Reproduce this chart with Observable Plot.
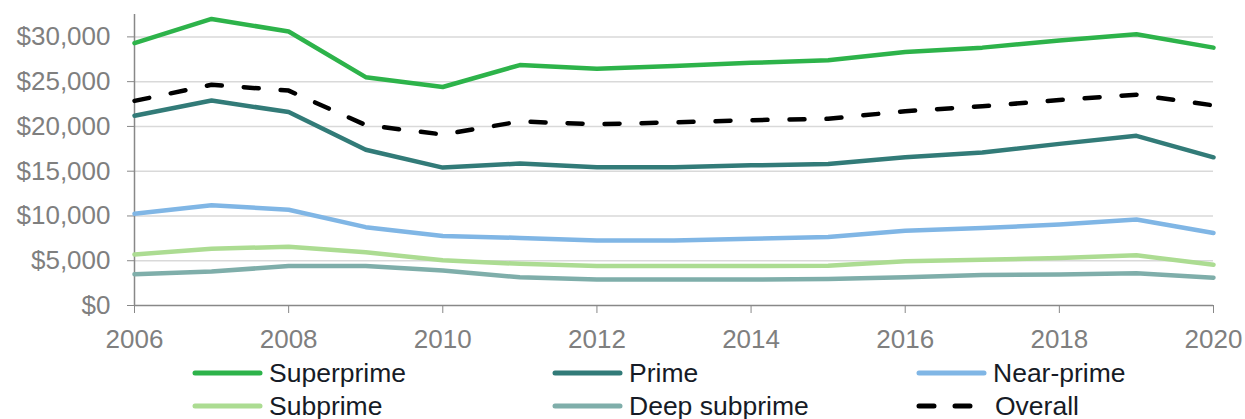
<!DOCTYPE html>
<html>
<head>
<meta charset="utf-8">
<script src="https://cdn.jsdelivr.net/npm/d3@7"></script>
<script src="https://cdn.jsdelivr.net/npm/@observablehq/plot@0.6"></script>
<style>
  html, body { margin: 0; padding: 0; background: #fff; }
  #wrap { position: relative; width: 1245px; height: 419px; font-family: "Liberation Sans", Arial, sans-serif; }
  #legend { position: absolute; left: 0; top: 0; width: 1245px; height: 419px; pointer-events: none; }
  .item { position: absolute; display: flex; align-items: center; height: 30px; font-size: 26.5px; color: #161b26; white-space: nowrap; }
  .item svg { margin-right: 6px; }
</style>
</head>
<body>
<div id="wrap"></div>
<script>
const years = [2006,2007,2008,2009,2010,2011,2012,2013,2014,2015,2016,2017,2018,2019,2020];
const superprime   = [29300,32000,30600,25500,24400,26850,26450,26750,27100,27400,28300,28800,29600,30300,28800];
const prime        = [21200,22900,21600,17400,15400,15850,15450,15450,15650,15800,16550,17100,18050,18950,16550];
const nearPrime    = [10250,11200,10700,8750,7750,7550,7250,7250,7450,7650,8350,8650,9050,9600,8100];
const subprime     = [5700,6350,6550,5950,5050,4650,4400,4400,4400,4450,4950,5100,5300,5600,4550];
const deepSubprime = [3500,3800,4400,4400,3900,3150,2900,2900,2900,2950,3150,3400,3450,3600,3100];
const overall      = [22850,24650,24000,20150,19100,20550,20250,20450,20700,20850,21700,22250,22950,23550,22350];
const yTicks = [0,5000,10000,15000,20000,25000,30000];
const xTicks = [2006,2008,2010,2012,2014,2016,2018,2020];

const seriesNames  = ["Superprime","Prime","Near-prime","Subprime","Deep subprime","Overall"];
const seriesValues = [superprime, prime, nearPrime, subprime, deepSubprime, overall];
const seriesColors = ["#2db34a","#327b78","#80b6e5","#acdc92","#7faeaa","#000000"];
const seriesDash   = [null,null,null,null,null,"15,22"];

const table = (vals) => years.map((yr, i) => ({year: yr, value: vals[i]}));
const fmt = d3.format("$,");

const lineMarks = seriesValues.map((vals, k) => Plot.line(table(vals), {
  x: "year", y: "value",
  stroke: seriesColors[k], strokeWidth: 4.5,
  strokeDasharray: seriesDash[k] || undefined,
  strokeLinecap: "round",
  strokeLinejoin: "round"
}));
// draw lower series first, overall last
const order = [4,3,2,1,0,5];

const chart = Plot.plot({
  width: 1245,
  height: 352,
  marginLeft: 134,
  marginRight: 32,
  marginTop: 14,
  marginBottom: 47,
  style: { fontFamily: "'Liberation Sans', Arial, sans-serif", fontSize: "26px", color: "#7f7f7f", background: "#fff", overflow: "visible" },
  x: { domain: [2006, 2020] },
  y: { domain: [0, 32500] },
  marks: [
    Plot.gridY(yTicks.filter(d => d > 0), { stroke: "#d9d9d9", strokeOpacity: 1, strokeWidth: 1.5 }),
    Plot.axisY(yTicks, { tickSize: 7, tickPadding: 17, tickFormat: fmt, stroke: "#888", strokeOpacity: 1, fill: "#7f7f7f", fontSize: 26, label: null }),
    Plot.axisX(xTicks, { tickSize: 8, tickPadding: 16, tickFormat: d3.format("d"), stroke: "#888", strokeOpacity: 1, fill: "#7f7f7f", fontSize: 26, label: null }),
    Plot.ruleY([0], { stroke: "#888", strokeWidth: 1.5 }),
    Plot.ruleX([2006], { stroke: "#888", strokeWidth: 1.5 }),
    ...order.map(k => lineMarks[k])
  ]
});

const wrap = document.getElementById("wrap");
wrap.appendChild(chart);

// legend below the chart
const legend = document.createElement("div");
legend.id = "legend";
const cols = [192, 552, 916];
const rows = [358, 391];
seriesNames.forEach((name, k) => {
  const item = document.createElement("div");
  item.className = "item";
  item.style.left = cols[k % 3] + "px";
  item.style.top = rows[Math.floor(k / 3)] + "px";
  const sw = d3.create("svg").attr("width", 71).attr("height", 10);
  sw.append("line").attr("x1", 3).attr("x2", seriesDash[k] ? 58 : 68).attr("y1", 5).attr("y2", 5)
    .attr("stroke", seriesColors[k]).attr("stroke-width", 5)
    .attr("stroke-dasharray", seriesDash[k] ? "15,21" : null)
    .attr("stroke-linecap", "round");
  item.appendChild(sw.node());
  const t = document.createElement("span");
  t.textContent = name;
  if (seriesDash[k]) t.style.marginLeft = "2px";
  item.appendChild(t);
  legend.appendChild(item);
});
wrap.appendChild(legend);
</script>
</body>
</html>
